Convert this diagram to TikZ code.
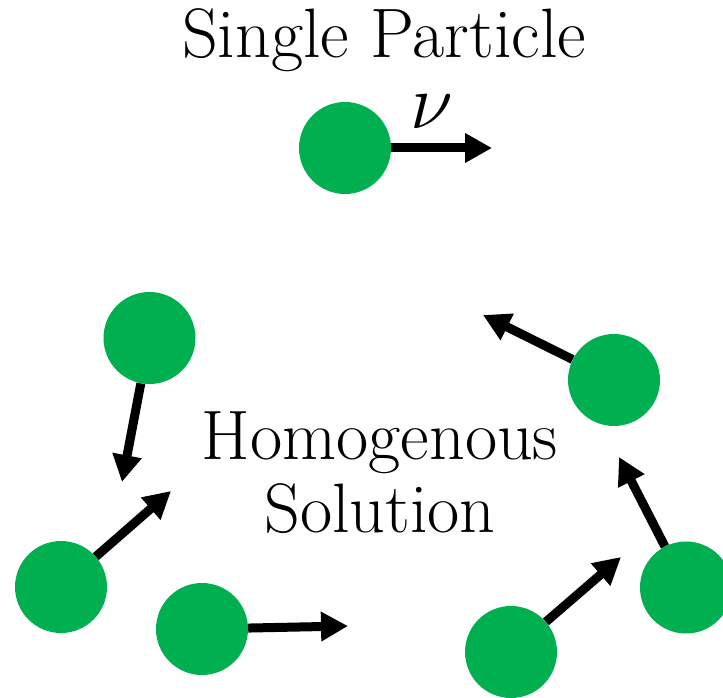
\documentclass[tikz,border=0pt]{standalone}
\usepackage{fix-cm}
\usepackage{amsmath,amssymb}
\usepackage{xcolor}
\usepackage{tikz}
\usetikzlibrary{positioning, calc, arrows.meta}

\definecolor{particlegreen}{HTML}{00B050}

\tikzset{
    particle/.style={circle, fill=particlegreen, minimum size=92pt, inner sep=0pt},
    velocity/.style={line width=9pt, -{Triangle[length=27pt, width=28pt]}},
    bigtext/.style={font=\fontsize{70}{73}\selectfont, inner sep=0pt}
}

\begin{document}
\begin{tikzpicture}[x=1pt, y=-1pt]

    \useasboundingbox (0,0) rectangle (723,698);

    % --- Top: one particle with its velocity ---
    \node[bigtext, anchor=base] (title) at (384,58) {Single Particle};
    \node[particle] (single) at (345,148) {};
    \coordinate (singletip) at (492,148);
    \draw[velocity] (single) -- (singletip);
    \node[font=\fontsize{78}{78}\selectfont, inner sep=0pt] (vlabel) at (432,112) {$\nu$};

    % --- Bottom: many particles moving every way ---
    % anchor=base sits on the last line here
    \node[bigtext, align=center, anchor=base] (solution) at (380,532) {Homogenous\\Solution};

    \node[particle] (p1) at (149.5,338) {};
    \node[particle] (p2) at (61,587) {};
    \node[particle] (p3) at (202,629) {};
    \node[particle] (p4) at (511,652) {};
    \node[particle] (p5) at (686,587.5) {};
    \node[particle] (p6) at (614,380) {};

    \coordinate (t1) at (122,482);
    \coordinate (t2) at (171,491);
    \coordinate (t3) at (348,626);
    \coordinate (t4) at (621,557);
    \coordinate (t5) at (619,457);
    \coordinate (t6) at (483,315);

    \draw[velocity] (p1) -- (t1);
    \draw[velocity] (p2) -- (t2);
    \draw[velocity] (p3) -- (t3);
    \draw[velocity] (p4) -- (t4);
    \draw[velocity] (p5) -- (t5);
    \draw[velocity] (p6) -- (t6);

\end{tikzpicture}
\end{document}
